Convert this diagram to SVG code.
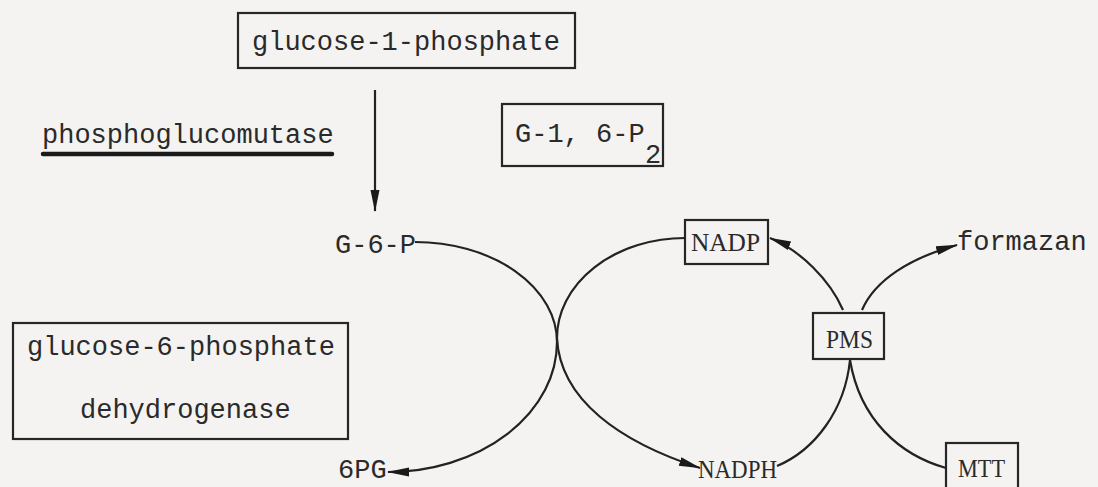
<svg xmlns="http://www.w3.org/2000/svg" width="1098" height="487" viewBox="0 0 1098 487">
<style>
.box{fill:none;stroke:#262626;stroke-width:2.2}
.mono{font-family:"Liberation Mono","DejaVu Sans Mono",monospace;font-size:27px;fill:#2a2a2a}
.serif{font-family:"Liberation Serif","DejaVu Serif",serif;font-size:25px;fill:#2a2a2a}
.c{fill:none;stroke:#222;stroke-width:2.2}
</style>
<defs>
<marker id="ah" viewBox="0 0 22 12" refX="21" refY="6" markerWidth="22" markerHeight="12" markerUnits="userSpaceOnUse" orient="auto">
<path d="M0,1.5 L22,6 L0,10.5 Z" fill="#1a1a1a"/>
</marker>
</defs>
<rect width="1098" height="487" fill="#f4f3f1"/>
<g id="g1p">
<rect class="box" x="238" y="13" width="337" height="55"/>
<text class="mono" x="252" y="50">glucose-1-phosphate</text>
</g>
<g id="pgm">
<text class="mono" x="42" y="143">phosphoglucomutase</text>
<line x1="43" y1="154" x2="332" y2="154" stroke="#1a1a1a" stroke-width="4.5" stroke-linecap="round"/>
</g>
<g id="g16p2">
<rect class="box" x="502" y="104" width="161" height="62"/>
<text class="mono" x="515" y="142">G-1, 6-P</text>
<text class="mono" x="645" y="163">2</text>
</g>
<g id="g6p"><text class="mono" x="335" y="253">G-6-P</text></g>
<g id="g6pd">
<rect class="box" x="13" y="323" width="335" height="116"/>
<text class="mono" x="27" y="355">glucose-6-phosphate</text>
<text class="mono" x="80" y="418">dehydrogenase</text>
</g>
<g id="pg6"><text class="mono" x="338" y="478">6PG</text></g>
<g id="nadp">
<rect class="box" x="685" y="220" width="83" height="44"/>
<text class="serif" x="691" y="251" textLength="69" lengthAdjust="spacingAndGlyphs">NADP</text>
</g>
<g id="nadph"><text class="serif" x="698" y="478" textLength="79" lengthAdjust="spacingAndGlyphs">NADPH</text></g>
<g id="pms">
<rect class="box" x="813" y="313" width="71" height="46"/>
<text class="serif" x="826" y="348" textLength="47" lengthAdjust="spacingAndGlyphs">PMS</text>
</g>
<g id="formazan"><text class="mono" x="957" y="250">formazan</text></g>
<g id="mtt">
<rect class="box" x="946" y="443" width="72" height="50"/>
<text class="serif" x="958" y="477" textLength="47" lengthAdjust="spacingAndGlyphs">MTT</text>
</g>
<g id="connectors">
<line class="c" x1="375" y1="90" x2="375" y2="211" marker-end="url(#ah)"/>
<path class="c" d="M415,242 A142,100 0 0 1 557,342 A169,130 0 0 1 388,472" marker-end="url(#ah)"/>
<path class="c" d="M685,238 A128,100 0 0 0 557,338 C560,400 620,442 700,468" marker-end="url(#ah)"/>
<path class="c" d="M843,310 C830,280 800,250 770,238" marker-end="url(#ah)"/>
<path class="c" d="M862,310 C875,280 910,258 957,245" marker-end="url(#ah)"/>
<path class="c" d="M850,360 C845,410 815,450 777,466"/>
<path class="c" d="M850,360 C860,420 900,455 946,468"/>
</g>
</svg>
